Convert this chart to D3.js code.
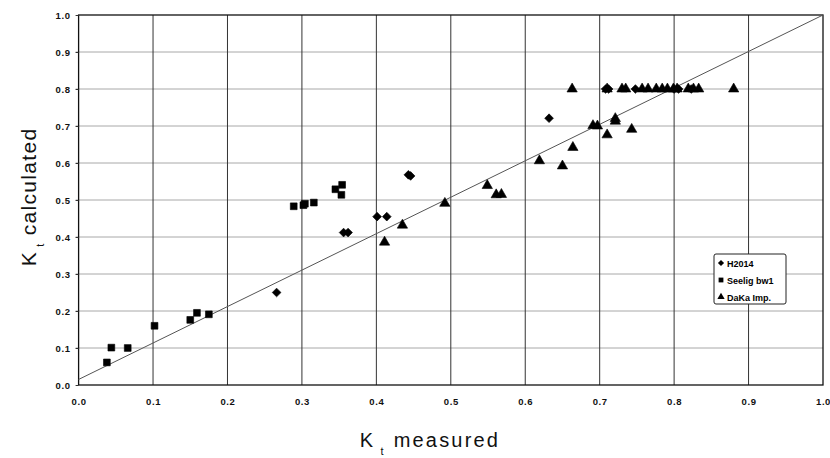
<!DOCTYPE html>
<html><head><meta charset="utf-8">
<script src="https://cdn.jsdelivr.net/npm/d3@7"></script>
<style>body{margin:0;background:#fff}svg{display:block}text{font-family:Arial,"Liberation Sans",sans-serif}</style>
</head><body><svg id="c" width="830" height="458"></svg>
<script>
// Data
const ticks = [0.0,0.1,0.2,0.3,0.4,0.5,0.6,0.7,0.8,0.9,1.0];
const seriesNames = ["H2014","Seelig bw1","DaKa Imp."];
const h2014 = [[0.266,0.250],[0.356,0.412],[0.362,0.412],[0.401,0.455],[0.414,0.455],[0.443,0.568],[0.446,0.565],[0.632,0.721],[0.708,0.800],[0.712,0.800],[0.748,0.800],[0.800,0.800],[0.806,0.800],[0.823,0.800]];
const seelig = [[0.038,0.061],[0.044,0.101],[0.066,0.100],[0.102,0.160],[0.150,0.176],[0.159,0.195],[0.175,0.191],[0.289,0.483],[0.302,0.486],[0.304,0.490],[0.316,0.493],[0.345,0.529],[0.354,0.541],[0.353,0.514]];
const daka = [[0.411,0.386],[0.435,0.432],[0.492,0.491],[0.549,0.539],[0.561,0.514],[0.568,0.515],[0.619,0.606],[0.650,0.592],[0.664,0.642],[0.691,0.701],[0.697,0.700],[0.710,0.676],[0.721,0.720],[0.721,0.713],[0.743,0.691],
  [0.663,0.800],[0.710,0.800],[0.730,0.800],[0.735,0.800],[0.757,0.800],[0.765,0.800],[0.776,0.800],[0.784,0.800],[0.791,0.800],[0.799,0.800],[0.804,0.800],[0.819,0.800],[0.826,0.800],[0.833,0.800],[0.880,0.800]];
const fitLine = [[0.0,0.015],[1.0,1.0]];

const svg = d3.select("#c");
const x = d3.scaleLinear().domain([0,1]).range([78.6,823]);
const y = d3.scaleLinear().domain([0,1]).range([385,15]);

// horizontal grid
svg.append("g").selectAll("line").data(ticks.slice(1,-1)).join("line")
  .attr("x1",x(0)-3).attr("x2",x(1)).attr("y1",d=>y(d)).attr("y2",d=>y(d))
  .attr("stroke","#a8a8a8").attr("stroke-width",1);
// vertical grid
svg.append("g").selectAll("line").data(ticks.slice(1,-1)).join("line")
  .attr("y1",y(0)).attr("y2",y(1)).attr("x1",d=>x(d)).attr("x2",d=>x(d))
  .attr("stroke","#333").attr("stroke-width",1);
// frame
svg.append("rect").attr("x",x(0)).attr("y",y(1)).attr("width",x(1)-x(0)).attr("height",y(0)-y(1))
  .attr("fill","none").attr("stroke","#111").attr("stroke-width",1.3);

// axes
const xa = svg.append("g").attr("transform",`translate(0,${y(0)})`)
  .call(d3.axisBottom(x).tickValues(ticks).tickFormat(d3.format(".1f")).tickSize(0).tickPadding(13));
const ya = svg.append("g").attr("transform",`translate(${x(0)},0)`)
  .call(d3.axisLeft(y).tickValues(ticks).tickFormat(d3.format(".1f")).tickSize(3).tickPadding(5));
[xa,ya].forEach(a=>{a.select(".domain").remove();a.selectAll("text").attr("font-size",9.5).attr("font-weight","bold").attr("fill","#111").attr("letter-spacing",0.6).attr("font-family","Arial, Liberation Sans, sans-serif");a.selectAll("line").attr("stroke","#333");});

// fit line
svg.append("path").datum(fitLine).attr("d",d3.line().x(d=>x(d[0])).y(d=>y(d[1])))
  .attr("stroke","#555").attr("stroke-width",1).attr("fill","none");

// markers
const sym = {
  "H2014": {t:d3.symbolSquare,s:38,r:45},
  "Seelig bw1": {t:d3.symbolSquare,s:46,r:0},
  "DaKa Imp.": {t:d3.symbolTriangle,s:46,r:0}
};
const groups = [["DaKa Imp.",daka],["Seelig bw1",seelig],["H2014",h2014]];
groups.forEach(([name,data])=>{
  const s = sym[name];
  svg.append("g").selectAll("path").data(data).join("path")
    .attr("d",d3.symbol().type(s.t).size(s.s)()).attr("transform",d=>`translate(${x(d[0])},${y(d[1])}) rotate(${s.r})`)
    .attr("fill","#000").attr("stroke","#000").attr("stroke-width",0.6).attr("stroke-linejoin","round");
});

// legend
const lg = svg.append("g");
lg.append("rect").attr("x",714).attr("y",254).attr("width",72).attr("height",50).attr("rx",2)
  .attr("fill","#fff").attr("stroke","#222").attr("stroke-width",1);
seriesNames.forEach((n,i)=>{
  const yy = 263 + i*17;
  const s = sym[n];
  lg.append("path").attr("d",d3.symbol().type(s.t).size(s.s*0.5)())
    .attr("transform",`translate(721,${yy}) rotate(${s.r})`).attr("fill","#000");
  lg.append("text").attr("x",727).attr("y",yy+3.5).attr("font-size",9).attr("font-weight","bold").text(n);
});

// axis titles
const xt = svg.append("text").attr("x",430).attr("y",447).attr("text-anchor","middle").attr("font-size",20).attr("fill","#111").attr("letter-spacing",2.2);
xt.append("tspan").text("K");
xt.append("tspan").attr("dy",8).attr("font-size",11).text(" t");
xt.append("tspan").attr("dy",-8).text(" measured");
const yt = svg.append("text").attr("transform","translate(36,197) rotate(-90)").attr("text-anchor","middle").attr("font-size",21).attr("fill","#111").attr("letter-spacing",1.3);
yt.append("tspan").text("K");
yt.append("tspan").attr("dy",8).attr("font-size",11).text(" t");
yt.append("tspan").attr("dy",-8).text(" calculated");
</script></body></html>
